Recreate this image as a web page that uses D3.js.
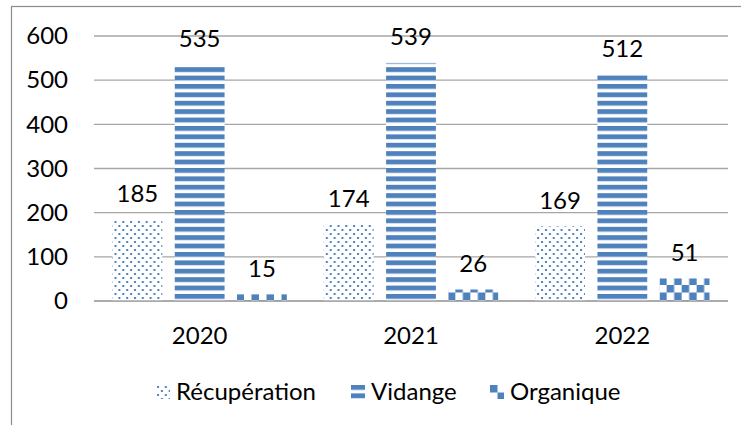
<!DOCTYPE html>
<html>
<head>
<meta charset="utf-8">
<script src="https://cdn.jsdelivr.net/npm/d3@7"></script>
<style>
  body { margin: 0; background: #fff; }
  text { font-family: Lato, "Open Sans", sans-serif; fill: #000; }
</style>
</head>
<body>
<svg></svg>
<script>
const w = 741;
const h = 425;

const years = ['2020', '2021', '2022'];
const series = ['Récupération', 'Vidange', 'Organique'];
const recuperation = [185, 174, 169];
const vidange = [535, 539, 512];
const organique = [15, 26, 51];
const yTicks = [0, 100, 200, 300, 400, 500, 600];

const values = [recuperation, vidange, organique];
const blue = '#4f81bd';

const svg = d3.select('svg').attr('width', w).attr('height', h);

// outer frame, only left and top edges are inside the picture
svg
  .append('rect')
  .attr('x', 11.5)
  .attr('y', 6.5)
  .attr('width', 800)
  .attr('height', 500)
  .attr('fill', 'none')
  .attr('stroke', '#8c8c8c')
  .attr('stroke-width', 1.2);

const defs = svg.append('defs');

const dots = defs
  .append('pattern')
  .attr('id', 'pat-dots')
  .attr('patternUnits', 'userSpaceOnUse')
  .attr('width', 7.8)
  .attr('height', 8);
dots.append('rect').attr('width', 7.8).attr('height', 8).attr('fill', '#fff');
dots.append('rect').attr('x', 1).attr('y', 1).attr('width', 2).attr('height', 2).attr('fill', blue);
dots.append('rect').attr('x', 4.9).attr('y', 5).attr('width', 2).attr('height', 2).attr('fill', blue);

const stripes = defs
  .append('pattern')
  .attr('id', 'pat-stripes')
  .attr('patternUnits', 'userSpaceOnUse')
  .attr('width', 10)
  .attr('height', 8.4);
stripes.append('rect').attr('width', 10).attr('height', 8.4).attr('fill', '#d7e3f2');
stripes.append('rect').attr('y', 0).attr('width', 10).attr('height', 4.6).attr('fill', blue);
stripes.append('rect').attr('y', 5.6).attr('width', 10).attr('height', 2.8).attr('fill', '#fff');

const checks = defs
  .append('pattern')
  .attr('id', 'pat-checks')
  .attr('patternUnits', 'userSpaceOnUse')
  .attr('width', 15)
  .attr('height', 15);
checks.append('rect').attr('width', 15).attr('height', 15).attr('fill', '#fff');
checks.append('rect').attr('width', 7.5).attr('height', 7.5).attr('fill', blue);
checks.append('rect').attr('x', 7.5).attr('y', 7.5).attr('width', 7.5).attr('height', 7.5).attr('fill', blue);

const fills = ['url(#pat-dots)', 'url(#pat-stripes)', 'url(#pat-checks)'];

const x = d3.scaleBand().domain(years).range([94, 728]);
const x1 = d3
  .scaleBand()
  .domain(series)
  .range([18.5, x.bandwidth() - 18.5])
  .paddingInner(0.2);
const y = d3.scaleLinear().domain([0, 600]).range([301, 36]);

// gridlines
svg
  .append('g')
  .selectAll('line')
  .data(yTicks)
  .enter()
  .append('line')
  .attr('x1', 94)
  .attr('x2', 728)
  .attr('y1', d => y(d))
  .attr('y2', d => y(d))
  .attr('stroke', '#a6a6a6')
  .attr('stroke-width', 1.3);

// y axis labels
const yAxis = d3.axisLeft(y).tickValues(yTicks).tickSize(0).tickPadding(0);
const gy = svg.append('g').attr('transform', 'translate(68,0)').call(yAxis);
gy.select('.domain').remove();
gy.selectAll('text')
  .style('font-family', 'Lato, sans-serif')
  .style('font-size', '24px')
  .attr('fill', '#000');

// x axis labels
const xAxis = d3.axisBottom(x).tickSize(0).tickPadding(0);
const gx = svg.append('g').attr('transform', 'translate(0,327)').call(xAxis);
gx.select('.domain').remove();
gx.selectAll('text')
  .attr('dy', '0.72em')
  .style('font-family', 'Lato, sans-serif')
  .style('font-size', '24px')
  .attr('fill', '#000');

// bars
const groups = svg
  .append('g')
  .selectAll('g')
  .data(years)
  .enter()
  .append('g')
  .attr('transform', d => `translate(${x(d)},0)`);

groups
  .selectAll('rect')
  .data((d, i) => series.map((s, j) => ({ s, j, v: values[j][i] })))
  .enter()
  .append('rect')
  .attr('x', d => x1(d.s))
  .attr('width', x1.bandwidth())
  .attr('y', d => y(d.v))
  .attr('height', d => y(0) - y(d.v))
  .attr('fill', d => fills[d.j]);

groups
  .selectAll('text')
  .data((d, i) => series.map((s, j) => ({ s, j, v: values[j][i] })))
  .enter()
  .append('text')
  .attr('x', d => x1(d.s) + x1.bandwidth() / 2)
  .attr('y', d => y(d.v) - 17.5)
  .attr('text-anchor', 'middle')
  .style('font-size', '24px')
  .text(d => d.v);

// baseline on top of bars
svg
  .append('line')
  .attr('x1', 94)
  .attr('x2', 728)
  .attr('y1', y(0))
  .attr('y2', y(0))
  .attr('stroke', '#a6a6a6')
  .attr('stroke-width', 1.3);

// legend
const legendX = [156, 351, 490];
const legend = svg
  .append('g')
  .selectAll('g')
  .data(series)
  .enter()
  .append('g')
  .attr('transform', (d, i) => `translate(${legendX[i]},385)`);

legend
  .append('rect')
  .attr('width', 14)
  .attr('height', 14)
  .attr('fill', (d, i) => fills[i]);

legend
  .append('text')
  .attr('x', 20)
  .attr('y', 14.5)
  .style('font-size', '24px')
  .text(d => d);
</script>
</body>
</html>
